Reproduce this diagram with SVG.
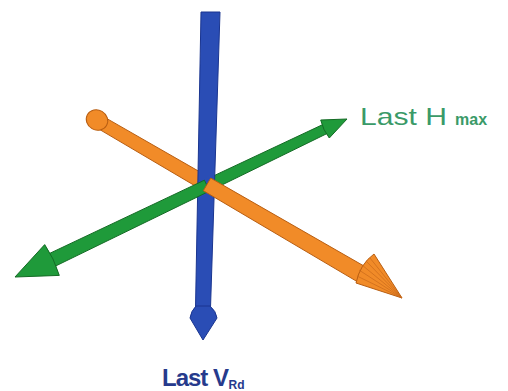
<svg xmlns="http://www.w3.org/2000/svg" width="508" height="391" viewBox="0 0 508 391">
<style>
.blue{fill:#2a4db5;stroke:#1a3590;stroke-width:1}
.green{fill:#1f9a3a;stroke:#146b25;stroke-width:1}
.orange{fill:#f18b28;stroke:#b85e12;stroke-width:1}
.rib{stroke:#c8691a;stroke-width:0.7;fill:none}
.lblH{font-family:"Liberation Sans",Arial,sans-serif;fill:#3a9a68}
.lblV{font-family:"Liberation Sans",Arial,sans-serif;fill:#263a8c}
</style>
<rect width="508" height="391" fill="#ffffff"/>
<g id="connectors">
  <g id="orange-back">
    <polygon class="orange" points="101.3,115.4 210.7,178.1 203.3,190.7 94.7,126.6"/>
    <ellipse class="orange" cx="97" cy="120" rx="11" ry="10" transform="rotate(30 97 120)"/>
  </g>
  <g id="green-back">
    <polygon class="green" points="204.4,180.2 322.9,124.5 327.1,133.5 209.6,191"/>
    <path class="green" d="M347,119 L320.7,120 Q323,130 329.3,138 Z"/>
  </g>
  <g id="arrow-blue">
    <polygon class="blue" points="201,12 220,12 210.5,308 195.5,308"/>
    <path class="blue" d="M196,306 Q191,311 190,318 L203,340 L217,318 Q216,311 210,306 Z"/>
  </g>
  <g id="green-front">
    <polygon class="green" points="49,253.7 204.4,180.2 209.6,191 55,266.3"/>
    <path class="green" d="M15,277 L44.7,244.6 Q54,258 59.3,275.4 Z"/>
  </g>
  <g id="orange-front">
    <polygon class="orange" points="210.7,178.1 368.3,268.5 359.7,283.1 203.3,190.7"/>
    <path class="orange" d="M402,298 L374,254 Q360,264 356,283 Z"/>
    <path class="rib" d="M402,298 L370,258 M402,298 L366,261 M402,298 L362,265 M402,298 L359,270 M402,298 L357,276"/>
  </g>
</g>
<g id="label-H">
  <text class="lblH" x="360" y="125" font-size="24" textLength="87" lengthAdjust="spacingAndGlyphs">Last H</text>
  <text class="lblH" x="455" y="125" font-size="16" font-weight="bold">max</text>
</g>
<g id="label-V">
  <text class="lblV" x="162" y="386" font-size="24" font-weight="bold" letter-spacing="-1">Last V<tspan font-size="12" dy="3" dx="0.5" letter-spacing="0">Rd</tspan></text>
</g>
</svg>
